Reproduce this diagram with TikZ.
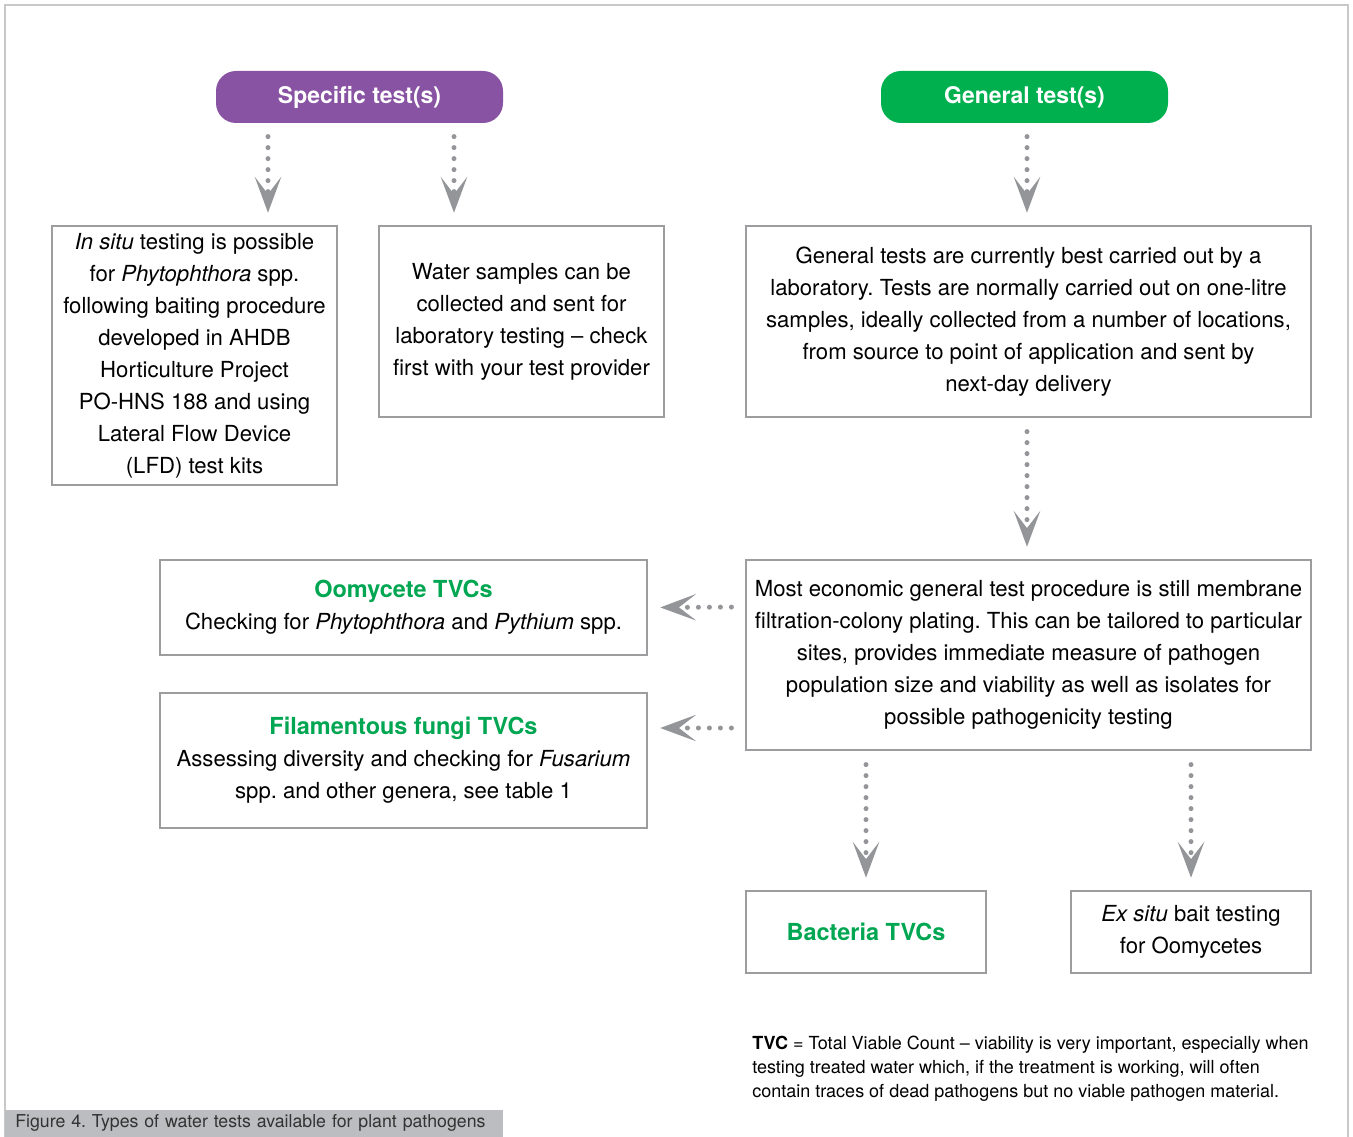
\documentclass[tikz,border=0pt]{standalone}
\usepackage{fontspec}
\setmainfont{TeX Gyre Heros}
\usetikzlibrary{arrows.meta}
\usetikzlibrary{calc}
\usetikzlibrary{positioning}
\definecolor{specpurple}{HTML}{8953A3}
\definecolor{gengreen}{HTML}{00B04F}
\definecolor{tvcgreen}{HTML}{00A651}
\definecolor{flowgrey}{HTML}{939598}
\definecolor{boxgrey}{HTML}{9D9D9F}
\definecolor{framegrey}{HTML}{C8C8C8}
\definecolor{capgrey}{HTML}{BCBDC0}
\frenchspacing
\newcommand*\tvchead[1]{{\color{tvcgreen}\fontsize{17.6}{24}\selectfont\bfseries #1}}
\tikzset{
    header/.style = {rounded corners=15pt,minimum width=215.25pt,minimum height=39pt,
        text=white,font=\fontsize{17.2}{20}\selectfont\bfseries},
    infobox/.style = {draw=boxgrey,line width=1.9pt,align=center,inner sep=0pt,
        font=\fontsize{16.6}{24}\selectfont},
    flow/.style = {flowgrey,line width=3.75pt,line cap=round,dash pattern=on 0pt off 8.25pt,
        -{Stealth[length=27pt,width=20pt,inset=13pt,line width=0pt]},
        shorten <=10pt,shorten >=9pt}
}

\begin{document}
\begin{tikzpicture}[x=0.75pt,y=-0.75pt]
    \useasboundingbox (0,0) rectangle (1353,1137);
    % Frame
    \draw[framegrey,line width=1.5pt] (5,1137) -- (5,5) -- (1348,5) -- (1348,1137);
    % Headers
    \node[header,fill=specpurple] (spec) at (359.5,97) {Specific test(s)};
    \node[header,fill=gengreen] (gen) at (1024.5,97) {General test(s)};
    % Boxes
    \node[infobox,minimum width=213.75pt,minimum height=194.25pt] (situ) at (194.5,355.5)
        {\textit{In situ} testing is possible\\ for \textit{Phytophthora} spp.\\
         following baiting procedure\\ developed in AHDB\\ Horticulture Project\\
         PO-HNS 188 and using\\ Lateral Flow Device\\ (LFD) test kits};
    \node[infobox,minimum width=213.75pt,minimum height=143.25pt] (water) at (521.5,321.5)
        {Water samples can be\\ collected and sent for\\ laboratory testing – check\\
         first with your test provider};
    \node[infobox,minimum width=423.75pt,minimum height=143.25pt] (lab) at (1028.5,321.5)
        {General tests are currently best carried out by a\\
         laboratory. Tests are normally carried out on one-litre\\
         samples, ideally collected from a number of locations,\\
         from source to point of application and sent by\\ next-day delivery};
    \node[infobox,minimum width=423.75pt,minimum height=142.5pt] (memb) at (1028.5,655)
        {Most economic general test procedure is still membrane\\
         filtration-colony plating. This can be tailored to particular\\
         sites, provides immediate measure of pathogen\\
         population size and viability as well as isolates for\\
         possible pathogenicity testing};
    \node[infobox,minimum width=365.25pt,minimum height=71.25pt] (oomy) at (403.5,607.5)
        {\tvchead{Oomycete TVCs}\\
         Checking for \textit{Phytophthora} and \textit{Pythium} spp.};
    \node[infobox,minimum width=365.25pt,minimum height=101.25pt] (fila) at (403.5,760.5)
        {\tvchead{Filamentous fungi TVCs}\\
         Assessing diversity and checking for \textit{Fusarium}\\
         spp. and other genera, see table 1};
    \node[infobox,minimum width=180pt,minimum height=61.5pt] (bact) at (866,932)
        {\tvchead{Bacteria TVCs}};
    \node[infobox,minimum width=180pt,minimum height=61.5pt] (exsitu) at (1191,932)
        {\textit{Ex situ} bait testing\\ for Oomycetes};
    % Note and caption
    \node[anchor=west,align=left,inner sep=0pt,font=\fontsize{13.5}{18}\selectfont] (note) at (752,1069)
        {\textbf{TVC} = Total Viable Count – viability is very important, especially when\\
         testing treated water which, if the treatment is working, will often\\
         contain traces of dead pathogens but no viable pathogen material.};
    \node[anchor=south west,fill=capgrey,text=black!80,inner xsep=7.5pt,inner ysep=0pt,
        text width=358.5pt,minimum height=20.25pt,align=left,
        font=\fontsize{13.3}{15}\selectfont] (caption) at (5,1137)
        {Figure 4. Types of water tests available for plant pathogens};
    % Arrows
    \foreach \src/\dest/\sx/\dx in {spec/situ/-91.5/73.5,spec/water/94.5/-67.5,
        gen/lab/2.5/-1.5,lab/memb/-1.5/-1.5,memb/bact/-162.5/0,memb/exsitu/162.5/0}
        \draw[flow] ($(\src.south)+(\sx,0)$) -- ($(\dest.north)+(\dx,0)$);
    \draw[flow] ($(memb.west)+(0,-48)$) -- (oomy.east);
    \draw[flow] ($(memb.west)+(0,73)$) -- ($(fila.east)+(0,-32.5)$);
\end{tikzpicture}
\end{document}
